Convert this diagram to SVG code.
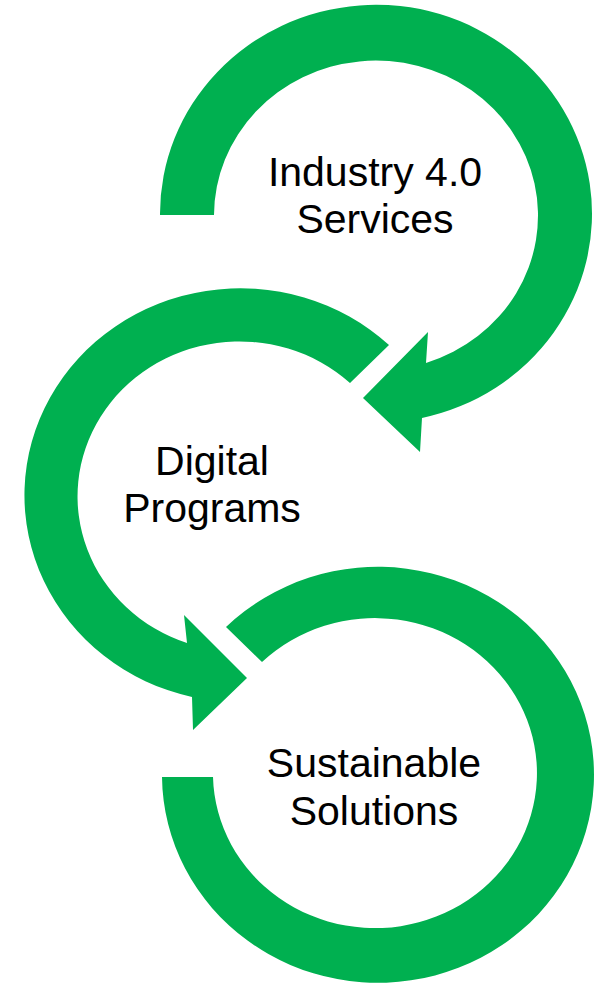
<svg xmlns="http://www.w3.org/2000/svg" width="598" height="983" viewBox="0 0 598 983">
<style>
.arc{fill:#00B050;stroke:none}
.lbl{font-family:Arial,"Liberation Sans",sans-serif;font-size:41px;fill:#000;text-anchor:middle}
</style>
<rect width="598" height="983" fill="#fff"/>
<g id="industry">
<path class="arc" d="M160,215 A216,209 0 1 1 422,418 L420,452 L363,398 L428,332 L426,363 A162,155 0 1 0 214,215 Z"/>
<text class="lbl" x="375" y="186">Industry 4.0</text>
<text class="lbl" x="375" y="233">Services</text>
</g>
<g id="digital">
<path class="arc" d="M389,345 A216,207 0 1 0 192,697 L193,730 L247,678 L184,615 L187,643 A162,155 0 1 1 350,383 Z"/>
<text class="lbl" x="212" y="475">Digital</text>
<text class="lbl" x="212" y="522">Programs</text>
</g>
<g id="sustainable">
<path class="arc" d="M226,627 A216,208 0 1 1 162,777 L213,777 A162,155 0 1 0 262,662 Z"/>
<text class="lbl" x="374" y="777">Sustainable</text>
<text class="lbl" x="374" y="825">Solutions</text>
</g>
</svg>
